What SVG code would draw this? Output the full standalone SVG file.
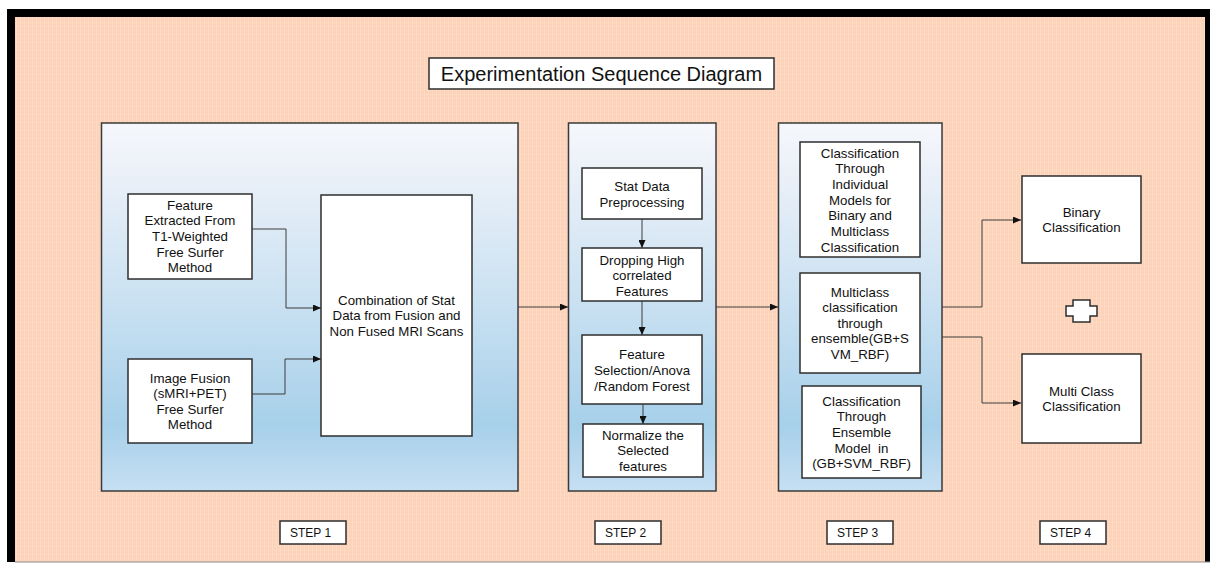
<svg xmlns="http://www.w3.org/2000/svg" width="1210" height="564" viewBox="0 0 1210 564">
  <style>
    .panel { fill: url(#panelFill); stroke: #3a3a3a; stroke-width: 1.5; }
    .box { fill: #ffffff; stroke: #2e2e2e; stroke-width: 1.5; }
    .lbl { font-family: "Liberation Sans", Arial, sans-serif; font-size: 13.3px; fill: #111; text-anchor: middle; }
    .step { font-family: "Liberation Sans", Arial, sans-serif; font-size: 12px; fill: #111; }
    .title { font-family: "Liberation Sans", Arial, sans-serif; font-size: 20px; fill: #111; text-anchor: middle; }
    .link { fill: none; stroke: #3c3c3c; stroke-width: 1; }
    .arrow { marker-end: url(#head); }
  </style>
  <defs>
    <linearGradient id="panelFill" x1="0" y1="0" x2="0" y2="1">
      <stop offset="0" stop-color="#f5f7fb"/>
      <stop offset="0.1" stop-color="#eef2f9"/>
      <stop offset="0.5" stop-color="#c8e0f1"/>
      <stop offset="0.82" stop-color="#a7d0ea"/>
      <stop offset="1" stop-color="#c6dff2"/>
    </linearGradient>
    <pattern id="paper" width="4" height="4" patternUnits="userSpaceOnUse">
      <rect width="4" height="4" fill="#fcd2b8"/>
      <rect x="0" y="0" width="1" height="4" fill="#fddbc6"/>
      <rect x="2" y="2" width="1" height="1" fill="#fde0ce"/>
    </pattern>
    <marker id="head" markerUnits="userSpaceOnUse" markerWidth="8" markerHeight="7" refX="8" refY="3.5" orient="auto">
      <path d="M0,0 L8,3.5 L0,7 z" fill="#111"/>
    </marker>
  </defs>

  <!-- page and frame -->
  <rect x="0" y="0" width="1210" height="564" fill="#ffffff"/>
  <rect x="7" y="9" width="1203" height="553" fill="#000000"/>
  <rect x="15" y="17" width="1190" height="545" fill="url(#paper)"/>
  <line x1="15" y1="562" x2="1210" y2="562" stroke="#8a8a8a" stroke-width="1"/>

  <!-- title -->
  <g id="title">
    <rect class="box" x="429" y="58" width="345" height="31"/>
    <text class="title" x="601.5" y="81">Experimentation Sequence Diagram</text>
  </g>

  <!-- step panels -->
  <g id="panel-step1"><rect class="panel" x="101.5" y="123" width="416.5" height="368"/></g>
  <g id="panel-step2"><rect class="panel" x="568.5" y="123" width="147.5" height="368"/></g>
  <g id="panel-step3"><rect class="panel" x="778.5" y="123" width="163.5" height="368"/></g>

  <!-- connectors -->
  <g id="connectors">
    <path class="link arrow" d="M252,229 H286 V308 H321"/>
    <path class="link arrow" d="M252,394 H285 V359 H321"/>
    <path class="link arrow" d="M518,307 H568"/>
    <path class="link arrow" d="M642,219 V248"/>
    <path class="link arrow" d="M642,301 V335"/>
    <path class="link arrow" d="M643,404 V424"/>
    <path class="link arrow" d="M716,307 H778"/>
    <path class="link arrow" d="M942,307 H982 V220 H1021"/>
    <path class="link arrow" d="M942,337 H982 V403 H1021"/>
  </g>

  <!-- step 1 -->
  <g id="feature-extracted">
    <rect class="box" x="128" y="194" width="124" height="85"/>
    <text class="lbl" x="190" y="209.5">Feature</text>
    <text class="lbl" x="190" y="225.2">Extracted From</text>
    <text class="lbl" x="190" y="240.9">T1-Weighted</text>
    <text class="lbl" x="190" y="256.6">Free Surfer</text>
    <text class="lbl" x="190" y="272.3">Method</text>
  </g>
  <g id="image-fusion">
    <rect class="box" x="128" y="359" width="124" height="84"/>
    <text class="lbl" x="190" y="382.5">Image Fusion</text>
    <text class="lbl" x="190" y="398">(sMRI+PET)</text>
    <text class="lbl" x="190" y="413.5">Free Surfer</text>
    <text class="lbl" x="190" y="429">Method</text>
  </g>
  <g id="combination">
    <rect class="box" x="321" y="195" width="151" height="241"/>
    <text class="lbl" x="396.5" y="304.5">Combination of Stat</text>
    <text class="lbl" x="396.5" y="320">Data from Fusion and</text>
    <text class="lbl" x="396.5" y="335.5">Non Fused MRI Scans</text>
  </g>

  <!-- step 2 -->
  <g id="preprocessing">
    <rect class="box" x="582" y="168" width="120" height="51"/>
    <text class="lbl" x="642" y="190.5">Stat Data</text>
    <text class="lbl" x="642" y="206.5">Preprocessing</text>
  </g>
  <g id="dropping">
    <rect class="box" x="582" y="248" width="120" height="53"/>
    <text class="lbl" x="642" y="264.5">Dropping High</text>
    <text class="lbl" x="642" y="280">correlated</text>
    <text class="lbl" x="642" y="295.5">Features</text>
  </g>
  <g id="feature-selection">
    <rect class="box" x="582" y="335" width="120" height="69"/>
    <text class="lbl" x="642" y="358.5">Feature</text>
    <text class="lbl" x="642" y="374.5">Selection/Anova</text>
    <text class="lbl" x="642" y="390.5">/Random Forest</text>
  </g>
  <g id="normalize">
    <rect class="box" x="583" y="424" width="120" height="53"/>
    <text class="lbl" x="643" y="439.5">Normalize the</text>
    <text class="lbl" x="643" y="455">Selected</text>
    <text class="lbl" x="643" y="470.5">features</text>
  </g>

  <!-- step 3 -->
  <g id="individual-models">
    <rect class="box" x="800" y="142" width="120" height="115"/>
    <text class="lbl" x="860" y="157.5">Classification</text>
    <text class="lbl" x="860" y="173.2">Through</text>
    <text class="lbl" x="860" y="188.9">Individual</text>
    <text class="lbl" x="860" y="204.6">Models for</text>
    <text class="lbl" x="860" y="220.3">Binary and</text>
    <text class="lbl" x="860" y="236">Multiclass</text>
    <text class="lbl" x="860" y="251.5">Classification</text>
  </g>
  <g id="multiclass-ensemble">
    <rect class="box" x="800" y="273" width="120" height="100"/>
    <text class="lbl" x="860" y="296.5">Multiclass</text>
    <text class="lbl" x="860" y="312">classification</text>
    <text class="lbl" x="860" y="327.5">through</text>
    <text class="lbl" x="860" y="343">ensemble(GB+S</text>
    <text class="lbl" x="860" y="358.5">VM_RBF)</text>
  </g>
  <g id="ensemble-model">
    <rect class="box" x="802" y="386" width="119" height="92"/>
    <text class="lbl" x="861.5" y="405.5">Classification</text>
    <text class="lbl" x="861.5" y="421.2">Through</text>
    <text class="lbl" x="861.5" y="436.9">Ensemble</text>
    <text class="lbl" x="861.5" y="452.6">Model&#160; in</text>
    <text class="lbl" x="861.5" y="468.3">(GB+SVM_RBF)</text>
  </g>

  <!-- step 4 -->
  <g id="binary">
    <rect class="box" x="1022" y="176" width="119" height="87"/>
    <text class="lbl" x="1081.5" y="216.5">Binary</text>
    <text class="lbl" x="1081.5" y="232">Classification</text>
  </g>
  <g id="plus-sign">
    <polygon class="box" points="1073,300 1090,300 1090,306 1097,306 1097,316 1090,316 1090,322 1073,322 1073,316 1066,316 1066,306 1073,306"/>
  </g>
  <g id="multi-class">
    <rect class="box" x="1022" y="354" width="119" height="89"/>
    <text class="lbl" x="1081.5" y="395.5">Multi Class</text>
    <text class="lbl" x="1081.5" y="411">Classification</text>
  </g>

  <!-- step captions -->
  <g id="step1"><rect class="box" x="280" y="521" width="66" height="23"/><text class="step" x="290" y="537">STEP 1</text></g>
  <g id="step2"><rect class="box" x="595" y="521" width="66" height="23"/><text class="step" x="605" y="537">STEP 2</text></g>
  <g id="step3"><rect class="box" x="827" y="521" width="66" height="23"/><text class="step" x="837" y="537">STEP 3</text></g>
  <g id="step4"><rect class="box" x="1040" y="521" width="66" height="23"/><text class="step" x="1050" y="537">STEP 4</text></g>
</svg>
